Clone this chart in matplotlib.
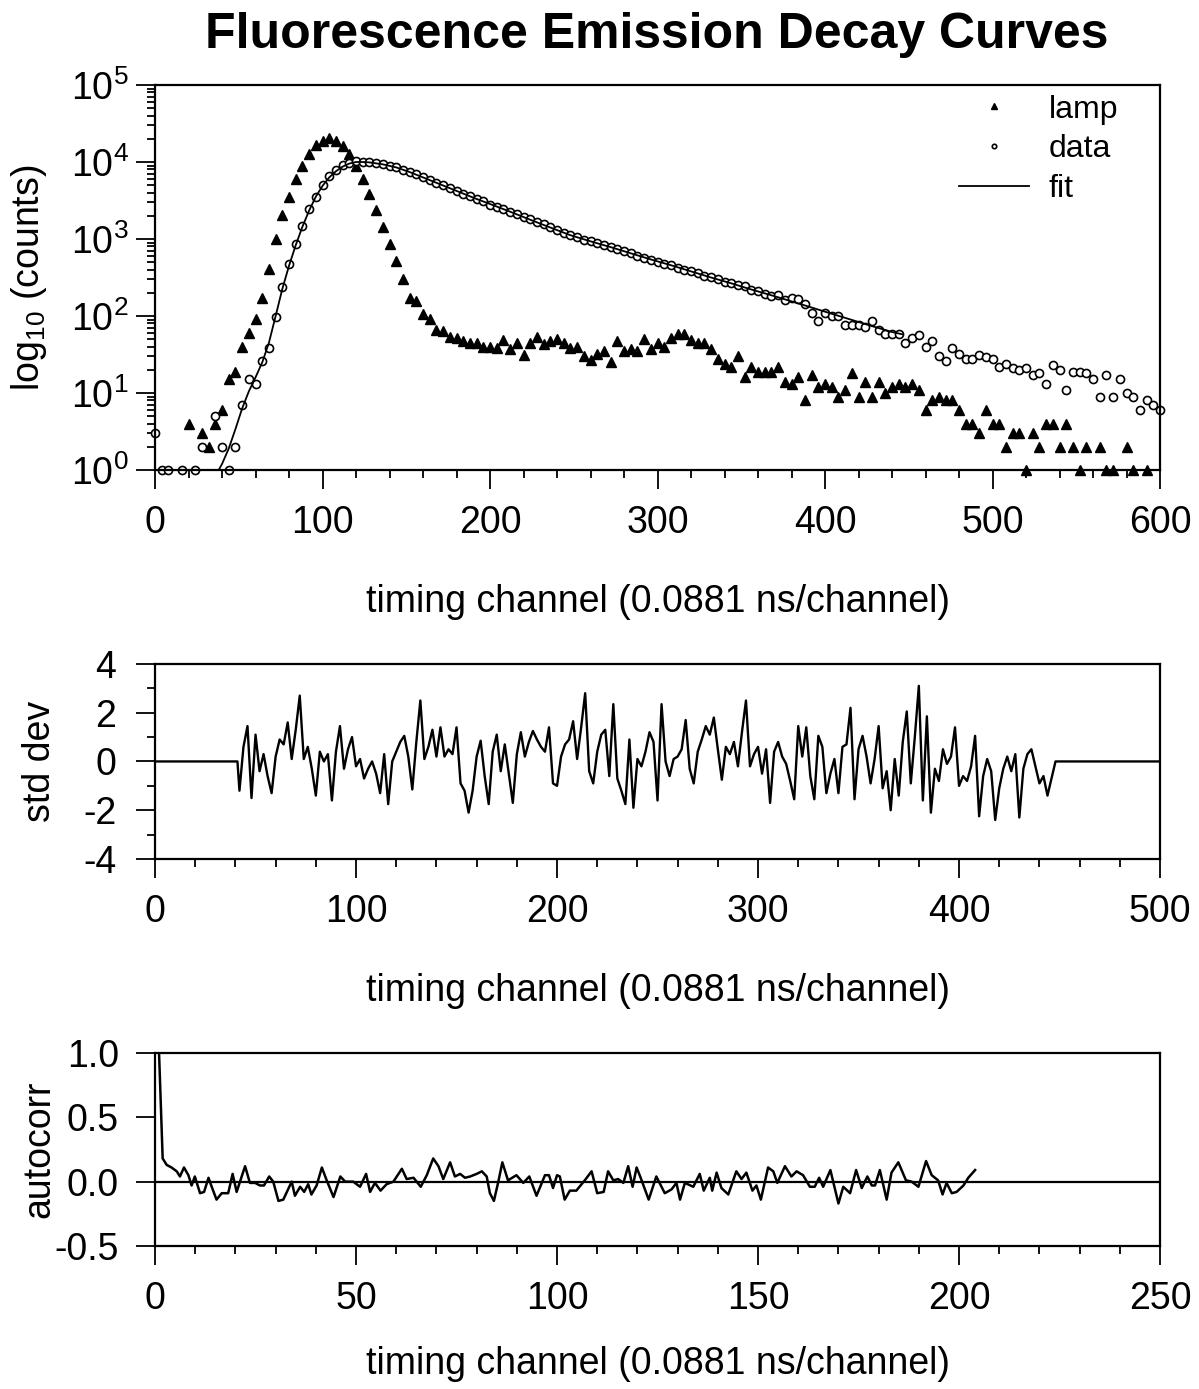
import numpy as np
import matplotlib
matplotlib.use("Agg")
import matplotlib.pyplot as plt
from matplotlib.ticker import MultipleLocator, LogLocator, NullFormatter, FixedLocator

plt.rcParams['font.family'] = ['Liberation Sans', 'DejaVu Sans']
plt.rcParams['mathtext.fontset'] = 'custom'
plt.rcParams['mathtext.rm'] = 'Liberation Sans'
plt.rcParams['mathtext.it'] = 'Liberation Sans:italic'
plt.rcParams['mathtext.default'] = 'regular'
plt.rcParams['axes.unicode_minus'] = False

nan = np.nan

# ---- decay curves (every 4th timing channel, 0..600) ----
decay_ch = np.arange(0, 601, 4)
lamp_counts = [
    nan, nan, nan, nan, nan, 4, nan, 3, 2, 4,
    6, 15, 19, 40, 60, 92, 172, 410, 1000, 2040,
    3500, 6000, 8900, 12600, 16500, 19000, 20500, 19000, 16300, 12600,
    9000, 6100, 3800, 2350, 1430, 850, 525, 305, 170, 155,
    105, 91, 65, 63, 54, 52, 47, 45, 44, 40,
    40, 38, 49, 37, 44, 31, 45, 54, 43, 47,
    51, 44, 38, 40, 30, 27, 32, 35, 25, 47,
    35, 37, 35, 50, 37, 45, 40, 52, 59, 58,
    49, 45, 45, 37, 28, 24, 22, 30, 16, 22,
    19, 19, 19, 22, 14, 13, 16, 8, 17, 12,
    13, 12, 9, 11, 18, 9, 14, 9, 14, 10,
    12, 13, 12, 13, 11, 6, 8, 9, 8, 8,
    6, 4, 4, 3, 6, 4, 4, 2, 3, 3,
    1, 3, 2, 4, 4, 2, 4, 2, 1, 2,
    nan, 2, 1, 1, nan, 2, 1, nan, 1, nan,
    nan,
]
data_counts = [
    3, 1, 1, nan, 1, nan, 1, 2, nan, 5,
    2, 1, 2, 7, 15, 13, 26, 38, 97, 240,
    480, 850, 1470, 2470, 3500, 5000, 6600, 7900, 9100, 9800,
    10200, 10000, 9900, 9600, 9400, 8900, 8600, 7900, 7500, 6900,
    6400, 5800, 5400, 5000, 4600, 4200, 3900, 3600, 3300, 3100,
    2800, 2600, 2450, 2250, 2100, 1950, 1800, 1650, 1550, 1450,
    1300, 1200, 1130, 1050, 980, 940, 900, 840, 790, 740,
    700, 660, 610, 570, 540, 510, 470, 460, 420, 400,
    390, 360, 330, 320, 300, 280, 270, 255, 245, 220,
    210, 195, 180, 185, 160, 170, 165, 145, 110, 85,
    110, 100, 100, 77, 77, 77, 71, 85, 65, 59,
    59, 59, 45, 52, 56, 40, 48, 30, 26, 39,
    32, 28, 28, 31, 29, 28, 22, 24, 21, 20,
    21, 17, 18, 13, 23, 20, 11, 19, 19, 18,
    15, 9, 17, 9, 15, 10, 9, 6, 8, 7,
    6,
]
fit_ch = [38, 40, 44, 48, 52, 56, 60, 64, 68, 72, 76, 80, 84, 88, 92, 96,
          100, 104, 108, 112, 116, 120, 124, 128, 136, 144, 152, 160, 168,
          176, 184, 192, 200, 212, 224, 236, 248, 260, 272, 284, 296, 308,
          320, 332, 344, 356, 368, 380, 392, 404, 416, 428, 440, 446]
fit_counts = [1.0, 1.2, 1.9, 3.4, 6.3, 10.5, 16, 25, 45, 100, 225, 450, 832,
              1445, 2344, 3548, 4898, 6310, 7586, 8710, 9550, 10000, 10000,
              9890, 9330, 8510, 7410, 6310, 5370, 4570, 3890, 3310, 2850,
              2265, 1780, 1410, 1120, 933, 785, 653, 543, 457, 380, 316, 266,
              221, 186, 155, 129, 107, 89, 74, 62, 58]

# ---- weighted residuals (channels 42..446, every 2nd) ----
resid_start = 42
resid_vals = [
    -1.2, 0.6, 1.45, -1.5, 1.1, -0.4, 0.3, -0.6, -1.3, 0.2,
    0.9, 0.7, 1.6, 0.1, 1.3, 2.7, 0.1, 0.6, -0.3, -1.4,
    0.4, 0.0, 0.3, -1.6, 0.4, 1.45, -0.3, 0.5, 1.0, -0.2,
    0.1, -0.7, -0.3, 0.0, -0.5, -1.3, 0.3, -1.75, 0.0, 0.4,
    0.8, 1.05, 0.2, -1.15, 0.8, 2.5, 0.1, 0.6, 1.3, 0.2,
    1.4, 0.2, 0.5, 0.3, 1.4, -0.9, -1.2, -2.1, -1.2, 0.2,
    0.85, -0.6, -1.75, 0.4, 1.1, -0.4, 0.7, -0.5, -1.7, 0.3,
    1.2, 0.2, 0.8, 1.25, 0.9, 0.6, 0.4, 1.4, -0.9, -1.0,
    0.2, 0.7, 0.9, 1.65, 0.1, 1.4, 2.8, -0.4, -0.9, 0.4,
    1.1, 1.3, -0.6, 2.35, -0.7, -1.2, -1.75, 0.9, -1.9, 0.1,
    -0.2, 0.4, 1.2, 0.8, -1.6, 2.35, 0.0, -0.6, 0.1, 0.2,
    0.5, 1.7, -0.3, -0.9, 0.4, 0.9, 1.45, 1.1, 1.8, 0.5,
    -0.75, 0.6, 0.3, 0.8, -0.2, 1.2, 2.5, -0.2, 0.3, 0.6,
    -0.5, 0.5, -1.7, 0.4, 0.8, 0.2, -0.1, -0.8, -1.55, 1.45,
    0.2, 1.4, -0.6, -1.55, 1.05, 0.6, -1.3, -0.5, 0.1, -1.3,
    0.6, 0.7, 2.2, -1.55, 0.5, 1.05, 0.2, -0.9, 0.1, 1.45,
    -1.1, -0.4, -2.0, 0.1, -1.4, 0.8, 2.05, -0.9, 1.0, 3.1,
    -1.6, 1.85, -2.1, -0.3, -0.8, 0.5, -0.1, 0.2, 1.4, -1.0,
    -0.6, -0.8, -0.2, 1.05, -2.25, -0.6, 0.1, -0.4, -2.4, -1.1,
    -0.3, 0.2, -0.4, 0.3, -2.3, -0.3, 0.3, 0.5, -0.2, -0.9,
    -0.6, -1.4, -0.7,
]
resid_lead_ch = [0, 41]
resid_tail_ch = [448, 500]

# ---- autocorrelation of residuals ----
ac_lag = [1, 1.9, 2.9, 4.1, 5.4, 6.2, 7.2, 8.3, 9.1, 9.9,
          11.2, 12.2, 13.3, 14.1, 15.3, 16.6, 18.2, 19.3, 20.3, 22.4,
          23.6, 24.9, 26.1, 27.1, 28.4, 29.4, 30.7, 31.9, 34, 34.8,
          36.1, 37.1, 38.1, 38.9, 40.2, 41.5, 42.7, 44.4, 46.1, 47.3,
          49.3, 51, 52.5, 53.5, 54.7, 56.1, 57.6, 59.3, 61.4, 62.6,
          64.3, 66.1, 67.6, 69.2, 70.5, 71.7, 73.4, 74.6, 75.9, 77.1,
          78.4, 80, 81.3, 82.5, 83.3, 84.3, 85.4, 86.4, 87.8, 89.9,
          91.6, 93.1, 94.9, 97, 98, 99, 100, 100.7, 101.9, 103.2,
          104.8, 106.9, 108.6, 110, 111.6, 112.7, 114, 115.2, 116.5, 117.7,
          118.8, 119.8, 120.8, 122.8, 124.7, 126.8, 128.5, 129.7, 130.6, 131.8,
          133.9, 135.5, 136.5, 138, 138.6, 139.7, 140.9, 142.6, 144.6, 145.9,
          147.1, 148.6, 149.6, 150.7, 152.5, 153.8, 154.8, 156.7, 158.3, 159.6,
          161.2, 162.9, 164.1, 165.2, 166.2, 168, 170, 171.2, 172.9, 174.4,
          175.8, 177.2, 178.3, 179.1, 180.3, 182, 183.2, 184.9, 186.8, 188.2,
          189.9, 191.8, 193.2, 194.8, 195.9, 196.9, 198.2, 199.4, 201.1, 202.3,
          204]
ac_vals = [1.0, 0.18, 0.13, 0.11, 0.08, 0.04, 0.11, 0.05, -0.03, 0.04,
           -0.09, -0.08, 0.03, -0.04, -0.14, -0.09, -0.09, 0.06, -0.08, 0.12,
           -0.01, -0.01, -0.03, -0.03, 0.04, 0.0, -0.15, -0.14, 0.0, -0.11,
           -0.04, -0.08, -0.02, -0.1, -0.03, 0.11, 0.01, -0.12, 0.04, 0.0,
           0.0, -0.04, 0.06, -0.08, -0.01, -0.07, -0.02, 0.0, 0.1, 0.02,
           0.03, -0.04, 0.05, 0.18, 0.12, 0.02, 0.15, 0.04, 0.06, 0.03,
           0.04, 0.06, 0.08, 0.04, -0.09, -0.15, 0.0, 0.15, 0.01, 0.05,
           -0.01, 0.04, -0.11, 0.05, 0.05, -0.05, 0.05, 0.04, -0.14, -0.07,
           -0.07, 0.01, 0.08, -0.09, -0.08, 0.08, 0.01, 0.02, -0.01, 0.12,
           -0.04, 0.11, 0.03, -0.14, 0.04, -0.09, -0.06, -0.01, -0.14, -0.01,
           -0.04, 0.06, -0.07, 0.03, -0.07, 0.07, -0.05, -0.1, 0.08, 0.02,
           0.07, -0.07, -0.03, -0.14, 0.11, 0.08, -0.01, 0.12, 0.04, 0.08,
           0.05, -0.04, -0.04, 0.03, -0.04, 0.09, -0.17, -0.04, -0.09, 0.09,
           -0.05, 0.04, -0.03, -0.03, 0.09, -0.14, 0.07, 0.15, 0.01, 0.0,
           -0.04, 0.16, 0.05, 0.01, -0.1, -0.01, -0.09, -0.08, -0.03, 0.03,
           0.09]

xlab = 'timing channel (0.0881 ns/channel)'


def style_axis(ax, ylabel, ylab_x=-0.104, ypad=12, xlabpad=31):
    for s in ax.spines.values():
        s.set_linewidth(1.6)
    ax.tick_params(which='both', direction='out', top=False, right=False,
                   width=1.3, labelsize=27)
    ax.tick_params(which='major', length=14)
    ax.tick_params(which='minor', length=6)
    ax.tick_params(axis='x', pad=11)
    ax.tick_params(axis='y', pad=ypad)
    ax.set_xlabel(xlab, fontsize=27, labelpad=xlabpad)
    ax.set_ylabel(ylabel, fontsize=27)
    ax.yaxis.set_label_coords(ylab_x, 0.5)


fig = plt.figure(figsize=(11.99, 13.89), dpi=100)
L, W = 0.1293, 0.8382
ax1 = fig.add_axes([L, 0.6616, W, 0.2772])
ax2 = fig.add_axes([L, 0.3816, W, 0.1404])
ax3 = fig.add_axes([L, 0.1030, W, 0.1389])

# top: decay curves
ax1.plot(decay_ch, lamp_counts, linestyle='none', marker='^', ms=7,
         color='black', clip_on=False, label='lamp')
ax1.plot(decay_ch, data_counts, linestyle='none', marker='o', ms=5.8,
         mfc='white', mec='black', mew=1.2, clip_on=False, label='data')
ax1.plot(fit_ch, fit_counts, color='black', lw=1.3, label='fit')
ax1.set_yscale('log')
ax1.set_ylim(1, 1e5)
ax1.set_xlim(0, 600)
ax1.xaxis.set_major_locator(MultipleLocator(100))
ax1.xaxis.set_minor_locator(MultipleLocator(20))
ax1.yaxis.set_major_locator(LogLocator(base=10, numticks=10))
ax1.yaxis.set_minor_locator(LogLocator(base=10, subs=np.arange(2, 10), numticks=20))
ax1.yaxis.set_minor_formatter(NullFormatter())
style_axis(ax1, 'log$_{10}$ (counts)', ylab_x=-0.106, ypad=5)
ax1.legend(loc='upper left', bbox_to_anchor=(0.80, 0.975), frameon=False,
           fontsize=23, handlelength=2.2, handletextpad=0.6,
           labelspacing=0.3, markerscale=0.55, borderpad=0, borderaxespad=0)

# middle: residuals
r_ch = np.concatenate([resid_lead_ch,
                       resid_start + 2 * np.arange(len(resid_vals)),
                       resid_tail_ch])
r_val = np.concatenate([[0, 0], resid_vals, [0, 0]])
ax2.plot(r_ch, r_val, color='black', lw=1.7)
ax2.set_xlim(0, 500)
ax2.set_ylim(-4, 4)
ax2.xaxis.set_major_locator(MultipleLocator(100))
ax2.xaxis.set_minor_locator(MultipleLocator(20))
ax2.yaxis.set_major_locator(MultipleLocator(2))
ax2.yaxis.set_minor_locator(MultipleLocator(1))
style_axis(ax2, 'std dev', ylab_x=-0.097, ypad=14)

# bottom: autocorrelation
n = min(len(ac_lag), len(ac_vals))
ax3.axhline(0, color='black', lw=1.6)
ax3.plot(ac_lag[:n], ac_vals[:n], color='black', lw=1.8)
ax3.set_xlim(0, 250)
ax3.set_ylim(-0.5, 1.0)
ax3.xaxis.set_major_locator(MultipleLocator(50))
ax3.xaxis.set_minor_locator(MultipleLocator(10))
ax3.yaxis.set_major_locator(FixedLocator([-0.5, 0.0, 0.5, 1.0]))
ax3.yaxis.set_major_formatter(plt.FormatStrFormatter('%.1f'))
style_axis(ax3, 'autocorr', ylab_x=-0.097, ypad=12, xlabpad=21)

fig.text(0.548, 0.9748, 'Fluorescence Emission Decay Curves',
         ha='center', va='center', fontsize=36, fontweight='bold')

fig.savefig('out.png', dpi=100)
